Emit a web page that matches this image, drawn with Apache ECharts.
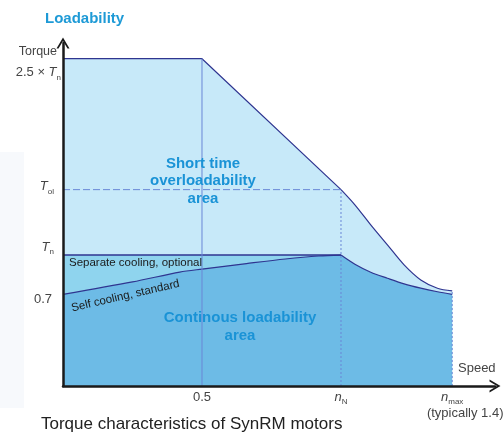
<!DOCTYPE html>
<html><head><meta charset="utf-8">
<script src="https://cdn.jsdelivr.net/npm/echarts@6/dist/echarts.min.js"></script>
<style>html,body{margin:0;padding:0;background:#fff}#c{width:503px;height:434px}</style>
</head><body><div id="c"></div>
<script>
// ---------- data ----------
const overloadLine = [[0, 2.5], [0.5, 2.5], [1, 1.5]];
const overloadCurve = [[1, 1.5], [1.05, 1.384], [1.107, 1.231], [1.167, 1.078], [1.227, 0.925], [1.287, 0.81], [1.347, 0.747], [1.4, 0.726]];
const separateCooling = [[0, 1], [1, 1]];
const selfCooling = [[0, 0.70], [0.25, 0.795], [0.42, 0.87], [0.5, 0.893], [0.66, 0.935], [0.8, 0.97], [0.92, 0.993], [1, 1]];
const continuousCurve = [[1, 1], [1.05, 0.93], [1.107, 0.869], [1.167, 0.823], [1.227, 0.78], [1.287, 0.747], [1.347, 0.72], [1.4, 0.70]];
const refOl = [[0, 1.5], [1, 1.5]];
const refHalf = [[0.5, 0], [0.5, 2.5]];
const refN = [[1, 0], [1, 1.5]];
const refMax = [[1.4, 0], [1.4, 0.726]];
const xTicks = [0.5, 1, 1.4];
const xTickLabels = ['{v|0.5}', '{i|n}{s|N}', '{i|n}{s|max}\n{p|(typically 1.4)}'];
const yTicks = [0.7, 1, 1.5, 2.5];
const yTickLabels = ['{v|0.7}', '{i|T}{s|n}', '{i|T}{s|ol}', '{v|2.5 × }{i|T}{s|n}'];

// ---------- style ----------
const FONT = '"Liberation Sans", Arial, Helvetica, sans-serif';
const NAVY = '#2f3590';
const REF = '#6a87d6';
const C_LIGHT = '#c7e9f9', C_MID = '#8fd4ee', C_DARK = '#6dbbe6';
const LBL = '#444';
const BLUE_TXT = '#1a93d6';

const chart = echarts.init(document.getElementById('c'), null, {renderer: 'canvas'});

function areaSeries(data, color, smooth, lw) {
  return {type: 'line', data: data, smooth: smooth, symbol: 'none', silent: true,
    lineStyle: {color: NAVY, width: lw}, areaStyle: {color: color, opacity: 1, origin: 'start'}, z: 2};
}
function refSeries(data, type) {
  return {type: 'line', data: data, symbol: 'none', silent: true, z: 4,
    lineStyle: {color: REF, width: 1, type: type}};
}
const chevron = 'path://M0,11 L6.5,0 L13,11 L11,11 L6.5,3.5 L2,11 Z';
const axisLine = {show: true, symbol: ['none', chevron], symbolSize: [13, 11], lineStyle: {color: '#1a1a1a', width: 2.5}};

const richAxis = {
  v: {fontSize: 13, fontFamily: FONT, color: LBL, lineHeight: 18},
  i: {fontSize: 13, fontFamily: FONT, fontStyle: 'italic', color: LBL, lineHeight: 18},
  s: {fontSize: 8, fontFamily: FONT, color: LBL, verticalAlign: 'bottom', lineHeight: 18},
  p: {fontSize: 13, fontFamily: FONT, color: LBL, lineHeight: 15, padding: [0, 0, 0, 26]}
};

const option = {
  animation: false,
  backgroundColor: '#fff',
  grid: {left: 63, right: 8, top: 43, bottom: 48, containLabel: false, outerBoundsMode: 'none'},
  xAxis: {type: 'value', min: 0, max: 1.554, z: 10,
    axisLine: axisLine, axisTick: {show: false}, splitLine: {show: false},
    axisLabel: {customValues: xTicks, margin: 2, rich: richAxis,
      formatter: function (v) { return xTickLabels[xTicks.indexOf(v)]; }}},
  yAxis: {type: 'value', min: 0, max: 2.62, z: 10,
    axisLine: axisLine, axisTick: {show: false}, splitLine: {show: false}, axisLabel: {show: false}},
  series: [
    areaSeries(overloadLine, C_LIGHT, false, 1.2),
    areaSeries(overloadCurve, C_LIGHT, 0.3, 1.2),
    areaSeries(separateCooling, C_MID, false, 1.5),
    areaSeries(selfCooling, C_DARK, 0.3, 1.2),
    areaSeries(continuousCurve, C_DARK, 0.3, 1.2),
    refSeries(refOl, [7, 3]),
    refSeries(refHalf, 'solid'),
    refSeries(refN, [2, 2]),
    refSeries(refMax, [2, 2])
  ]
};
chart.setOption(option);

const richG = {
  v: {fontSize: 13, fontFamily: FONT, fill: LBL, lineHeight: 18},
  i: {fontSize: 13, fontFamily: FONT, fontStyle: 'italic', fill: LBL, lineHeight: 18},
  s: {fontSize: 8, fontFamily: FONT, fill: LBL, verticalAlign: 'bottom', lineHeight: 18}
};
const yLabelGap = [11, 9, 9, 2];
const yLabelShift = [5, -8, -3, 14];
const yLabelGraphics = yTicks.map(function (v, i) {
  const p = chart.convertToPixel({gridIndex: 0}, [0, v]);
  return {type: 'text', x: p[0] - yLabelGap[i], y: p[1] + yLabelShift[i], z: 20,
    style: {text: yTickLabels[i], align: 'right', verticalAlign: 'middle', rich: richG, fill: LBL, fontSize: 13, fontFamily: FONT}};
});

function txt(text, x, y, o) {
  return {type: 'text', x: x, y: y, z: 20, rotation: o.rotation || 0,
    style: Object.assign({text: text, verticalAlign: 'middle', align: 'left', fontFamily: FONT}, o.style)};
}
const graphics = [
  {type: 'rect', z: -5, shape: {x: 0, y: 152, width: 24, height: 256}, style: {fill: '#f7f9fc'}},
  txt('Loadability', 45, 19, {style: {fontSize: 15, fontWeight: 'bold', fill: '#1e9ad6'}}),
  txt('Torque', 57, 52, {style: {fontSize: 12.5, fill: LBL, align: 'right'}}),
  txt('Speed', 458, 368, {style: {fontSize: 13, fill: LBL}}),
  txt('Short time\noverloadability\narea', 203, 181, {style: {fontSize: 15, fontWeight: 'bold', fill: BLUE_TXT, align: 'center', lineHeight: 17.5}}),
  txt('Continous loadability\narea', 240, 327, {style: {fontSize: 15, fontWeight: 'bold', fill: BLUE_TXT, align: 'center', lineHeight: 17.5}}),
  txt('Separate cooling, optional', 69, 263, {style: {fontSize: 11.5, fill: '#1a1a1a'}}),
  txt('Self cooling, standard', 125.5, 296, {rotation: 13 * Math.PI / 180, style: {fontSize: 11.5, fill: '#1a1a1a', align: 'center'}}),
  txt('Torque characteristics of SynRM motors', 41, 424, {style: {fontSize: 17, fill: '#222'}})
];
chart.setOption({graphic: graphics.concat(yLabelGraphics)});
</script>
</body></html>
